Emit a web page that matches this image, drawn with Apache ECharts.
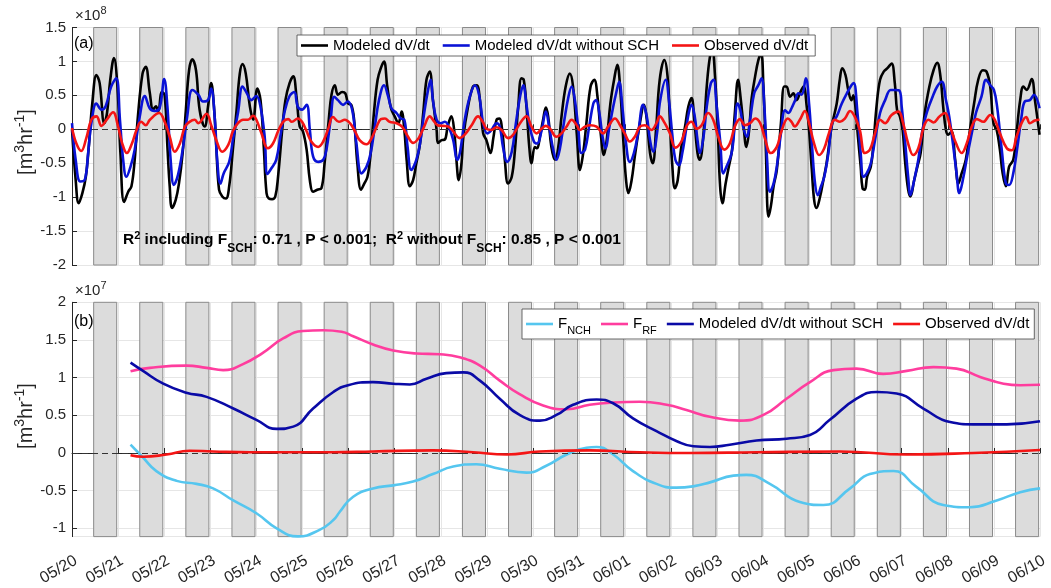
<!DOCTYPE html>
<html><head><meta charset="utf-8">
<script src="https://cdn.jsdelivr.net/npm/echarts@6/dist/echarts.min.js"></script>
<style>html,body{margin:0;padding:0;background:#fff}#c{width:1051px;height:588px}</style>
</head><body><div id="c"></div><script>
// ---------- data (x = days since 05/20 00:00) ----------
const dateLabels = ['05/20','05/21','05/22','05/23','05/24','05/25','05/26','05/27','05/28','05/29','05/30','05/31','06/01','06/02','06/03','06/04','06/05','06/06','06/07','06/08','06/09','06/10'];
const nightBands = [[0.47,0.97],[1.47,1.97],[2.47,2.97],[3.47,3.97],[4.47,4.97],[5.47,5.97],[6.47,6.97],[7.47,7.97],[8.47,8.97],[9.47,9.97],[10.47,10.97],[11.47,11.97],[12.47,12.97],[13.47,13.97],[14.47,14.97],[15.47,15.97],[16.47,16.97],[17.47,17.97],[18.47,18.97],[19.47,19.97],[20.47,20.97]];

// panel (a), units of 1e8 m3/hr
const modeledTop = [[0.0,0.0],[0.08,-0.75],[0.145,-1.09],[0.225,-0.94],[0.30,-0.70],[0.37,-0.21],[0.44,0.38],[0.53,0.80],[0.60,0.68],[0.70,0.09],[0.76,0.24],[0.83,0.73],[0.91,1.05],[0.985,0.63],[1.05,-0.35],[1.13,-1.07],[1.22,-0.92],[1.29,-0.84],[1.36,-0.45],[1.43,0.19],[1.53,0.82],[1.60,0.92],[1.685,0.55],[1.76,0.29],[1.82,0.34],[1.87,0.26],[1.95,0.55],[2.01,0.50],[2.07,-0.26],[2.12,-0.84],[2.17,-1.16],[2.25,-1.04],[2.32,-0.80],[2.40,-0.35],[2.47,0.28],[2.54,0.87],[2.61,1.03],[2.69,0.87],[2.77,0.28],[2.88,0.04],[2.95,0.33],[3.02,0.68],[3.08,0.33],[3.13,-0.26],[3.19,-0.89],[3.26,-0.99],[3.34,-1.02],[3.41,-0.84],[3.49,-0.30],[3.57,0.28],[3.64,0.82],[3.70,0.96],[3.77,0.82],[3.86,0.33],[3.93,0.14],[4.02,0.60],[4.09,0.43],[4.16,-0.26],[4.22,-0.94],[4.27,-1.02],[4.34,-1.03],[4.41,-0.99],[4.47,-0.70],[4.56,-0.01],[4.63,0.43],[4.72,0.68],[4.80,0.78],[4.87,0.48],[4.94,0.04],[5.01,-0.03],[5.09,-0.30],[5.16,-0.75],[5.23,-0.92],[5.32,-0.89],[5.41,-0.87],[5.48,-0.50],[5.57,0.14],[5.63,0.51],[5.70,0.65],[5.77,0.51],[5.86,0.55],[5.93,0.53],[5.99,0.38],[6.06,0.36],[6.12,0.14],[6.19,-0.50],[6.27,-0.89],[6.34,-0.80],[6.41,-0.70],[6.48,-0.35],[6.55,0.24],[6.63,0.73],[6.71,0.92],[6.77,1.0],[6.84,0.63],[6.92,0.31],[7.00,0.19],[7.08,0.09],[7.15,0.26],[7.21,-0.01],[7.26,-0.45],[7.33,-0.84],[7.40,-0.75],[7.47,-0.50],[7.55,-0.21],[7.62,0.24],[7.69,0.73],[7.76,0.85],[7.83,0.43],[7.91,-0.01],[7.94,-0.20],[8.02,-0.16],[8.09,-0.15],[8.15,0.04],[8.23,0.19],[8.29,-0.01],[8.34,-0.45],[8.39,-0.75],[8.45,-0.50],[8.49,-0.11],[8.59,0.33],[8.70,0.63],[8.78,0.65],[8.85,0.43],[8.92,-0.06],[8.99,-0.16],[9.08,-0.35],[9.14,-0.13],[9.21,0.14],[9.27,0.16],[9.34,-0.06],[9.39,-0.45],[9.46,-0.80],[9.54,-0.70],[9.61,-0.30],[9.68,0.33],[9.75,0.75],[9.80,0.73],[9.86,0.33],[9.92,-0.26],[9.97,-0.50],[10.04,-0.26],[10.09,-0.28],[10.15,-0.11],[10.22,0.14],[10.28,0.32],[10.33,0.19],[10.40,-0.26],[10.48,-0.45],[10.55,-0.26],[10.62,0.19],[10.71,0.63],[10.80,0.82],[10.87,0.63],[10.95,-0.06],[11.02,-0.60],[11.09,-0.35],[11.16,0.09],[11.25,0.63],[11.33,0.73],[11.40,0.48],[11.47,-0.06],[11.54,-0.38],[11.60,-0.16],[11.68,0.38],[11.76,0.73],[11.83,0.95],[11.89,0.63],[11.96,-0.16],[12.02,-0.75],[12.07,-0.94],[12.14,-0.75],[12.21,-0.40],[12.32,0.09],[12.41,0.36],[12.47,0.14],[12.54,-0.35],[12.60,-0.50],[12.67,-0.01],[12.75,0.73],[12.85,1.02],[12.92,0.78],[12.97,0.14],[13.02,-0.50],[13.08,-0.87],[13.14,-0.75],[13.21,-0.30],[13.30,0.04],[13.37,0.33],[13.44,0.46],[13.50,0.14],[13.57,-0.35],[13.62,-0.45],[13.70,-0.06],[13.77,0.63],[13.84,1.07],[13.89,1.14],[13.95,0.78],[14.01,-0.01],[14.06,-0.84],[14.11,-1.09],[14.18,-0.80],[14.25,-0.55],[14.32,-0.30],[14.38,0.24],[14.45,0.73],[14.51,0.43],[14.57,0.04],[14.63,-0.26],[14.69,-0.01],[14.74,0.43],[14.82,0.78],[14.89,1.02],[14.95,1.12],[15.00,0.63],[15.05,-0.26],[15.11,-1.29],[15.16,-1.14],[15.22,-0.84],[15.29,-0.60],[15.38,0.09],[15.45,0.63],[15.50,0.63],[15.58,0.48],[15.65,0.53],[15.72,0.43],[15.79,0.53],[15.87,0.63],[15.94,0.33],[15.99,-0.01],[16.05,-0.60],[16.10,-1.04],[16.15,-1.16],[16.23,-0.99],[16.30,-0.75],[16.37,-0.50],[16.48,0.04],[16.59,0.38],[16.66,0.75],[16.71,0.90],[16.78,0.80],[16.84,0.58],[16.91,0.43],[16.95,0.50],[17.0,0.30],[17.05,-0.11],[17.11,-0.55],[17.15,-0.87],[17.20,-0.89],[17.25,-0.70],[17.33,-0.55],[17.38,-0.26],[17.46,0.38],[17.53,0.73],[17.61,0.85],[17.69,0.90],[17.78,0.97],[17.85,0.68],[17.90,0.28],[17.96,0.19],[18.02,-0.01],[18.07,-0.45],[18.14,-0.89],[18.19,-0.99],[18.27,-0.75],[18.34,-0.55],[18.41,-0.35],[18.50,0.24],[18.60,0.63],[18.69,0.87],[18.77,0.98],[18.84,0.78],[18.90,0.33],[18.96,-0.01],[19.01,-0.08],[19.08,-0.03],[19.16,-0.45],[19.23,-0.80],[19.30,-0.65],[19.39,-0.45],[19.48,-0.01],[19.57,0.38],[19.66,0.73],[19.76,0.87],[19.84,0.85],[19.92,0.63],[19.99,0.09],[20.06,-0.01],[20.13,-0.30],[20.19,-0.65],[20.26,-0.84],[20.33,-0.55],[20.42,-0.45],[20.49,-0.06],[20.57,0.43],[20.64,0.63],[20.71,0.58],[20.82,0.74],[20.89,0.43],[20.99,-0.08]];

const modeledNoSchTop = [[0.0,0.09],[0.08,-0.45],[0.18,-0.77],[0.28,-0.74],[0.35,-0.35],[0.42,0.09],[0.53,0.38],[0.64,0.29],[0.73,0.34],[0.85,0.63],[0.96,0.75],[1.04,0.14],[1.11,-0.45],[1.18,-0.70],[1.27,-0.55],[1.36,-0.30],[1.47,0.19],[1.58,0.49],[1.685,0.31],[1.79,0.27],[1.90,0.31],[2.0,0.74],[2.07,0.33],[2.14,-0.45],[2.21,-0.82],[2.30,-0.67],[2.41,-0.26],[2.50,0.19],[2.61,0.58],[2.74,0.51],[2.84,0.41],[2.95,0.43],[3.02,0.60],[3.10,0.14],[3.15,-0.45],[3.22,-0.80],[3.29,-0.65],[3.41,-0.48],[3.49,-0.16],[3.60,0.24],[3.70,0.63],[3.78,0.55],[3.89,0.43],[4.00,0.49],[4.09,0.33],[4.18,-0.11],[4.24,-0.66],[4.33,-0.57],[4.43,-0.45],[4.53,-0.06],[4.62,0.28],[4.72,0.49],[4.82,0.55],[4.90,0.33],[4.99,0.29],[5.09,0.36],[5.16,-0.01],[5.23,-0.40],[5.34,-0.48],[5.45,-0.45],[5.52,-0.30],[5.61,0.14],[5.69,0.48],[5.77,0.43],[5.88,0.36],[5.98,0.41],[6.08,0.28],[6.17,-0.21],[6.28,-0.65],[6.39,-0.55],[6.48,-0.35],[6.57,0.04],[6.66,0.43],[6.77,0.65],[6.86,0.48],[6.93,0.31],[7.04,0.24],[7.13,0.16],[7.21,0.14],[7.28,-0.26],[7.36,-0.60],[7.47,-0.45],[7.55,-0.21],[7.64,0.24],[7.73,0.60],[7.78,0.73],[7.83,0.43],[7.91,0.14],[8.00,0.09],[8.09,0.11],[8.20,-0.01],[8.27,-0.16],[8.36,-0.45],[8.42,-0.33],[8.52,0.14],[8.63,0.48],[8.74,0.65],[8.83,0.51],[8.92,0.09],[9.01,-0.06],[9.10,-0.01],[9.21,0.09],[9.28,0.04],[9.35,-0.26],[9.44,-0.48],[9.54,-0.33],[9.63,0.09],[9.72,0.48],[9.79,0.65],[9.86,0.36],[9.93,0.04],[10.02,-0.18],[10.09,-0.21],[10.19,-0.01],[10.28,0.26],[10.35,0.04],[10.44,-0.30],[10.51,-0.45],[10.58,-0.30],[10.67,0.09],[10.77,0.48],[10.84,0.63],[10.91,0.43],[10.98,0.04],[11.05,-0.35],[11.13,-0.30],[11.22,0.04],[11.31,0.38],[11.37,0.43],[11.44,0.24],[11.51,-0.11],[11.57,-0.28],[11.66,0.04],[11.74,0.33],[11.81,0.55],[11.87,0.70],[11.94,0.33],[12.02,-0.21],[12.10,-0.48],[12.19,-0.35],[12.28,-0.06],[12.39,0.36],[12.47,0.19],[12.54,-0.16],[12.61,-0.33],[12.70,-0.01],[12.75,0.38],[12.88,0.73],[12.95,0.43],[13.02,-0.06],[13.09,-0.45],[13.17,-0.53],[13.24,-0.35],[13.31,-0.06],[13.38,0.24],[13.44,0.36],[13.51,0.19],[13.57,-0.16],[13.62,-0.35],[13.70,-0.11],[13.77,0.33],[13.86,0.68],[13.92,0.73],[13.98,0.38],[14.06,-0.16],[14.13,-0.65],[14.20,-0.55],[14.31,-0.35],[14.37,-0.01],[14.44,0.38],[14.50,0.28],[14.56,0.04],[14.64,-0.11],[14.71,0.14],[14.80,0.53],[14.89,0.65],[14.96,0.75],[15.02,0.33],[15.08,-0.45],[15.14,-0.92],[15.22,-0.80],[15.29,-0.55],[15.38,-0.06],[15.47,0.28],[15.54,0.24],[15.61,0.31],[15.69,0.43],[15.76,0.53],[15.83,0.51],[15.92,0.75],[15.99,0.38],[16.06,-0.30],[16.12,-0.80],[16.18,-0.97],[16.25,-0.84],[16.32,-0.70],[16.41,-0.35],[16.49,0.09],[16.59,0.19],[16.70,0.38],[16.81,0.53],[16.91,0.65],[16.96,0.68],[17.04,0.24],[17.11,-0.35],[17.17,-0.70],[17.24,-0.65],[17.33,-0.50],[17.42,-0.16],[17.53,0.24],[17.64,0.43],[17.76,0.58],[17.85,0.58],[17.95,0.57],[18.00,0.33],[18.07,-0.16],[18.14,-0.70],[18.19,-0.97],[18.27,-0.75],[18.36,-0.45],[18.45,-0.01],[18.56,0.28],[18.67,0.48],[18.77,0.63],[18.87,0.70],[18.96,0.43],[19.03,0.19],[19.12,-0.26],[19.19,-0.65],[19.25,-0.94],[19.34,-0.70],[19.42,-0.40],[19.52,-0.06],[19.61,0.24],[19.73,0.48],[19.83,0.73],[19.92,0.65],[20.00,0.58],[20.07,0.33],[20.17,-0.30],[20.26,-0.80],[20.33,-0.82],[20.42,-0.65],[20.51,-0.26],[20.60,0.19],[20.67,0.41],[20.78,0.43],[20.87,0.51],[20.99,0.31]];

const observedTop = [[0.0,0.02],[0.095,-0.21],[0.20,-0.32],[0.31,-0.13],[0.42,0.14],[0.53,0.19],[0.64,0.05],[0.75,0.14],[0.89,0.25],[1.0,0.04],[1.09,-0.21],[1.19,-0.35],[1.30,-0.21],[1.40,-0.01],[1.50,0.11],[1.60,0.06],[1.69,0.14],[1.89,0.24],[2.01,0.11],[2.12,-0.11],[2.23,-0.33],[2.34,-0.21],[2.45,0.04],[2.55,0.11],[2.66,0.14],[2.74,0.09],[2.92,0.23],[3.02,0.06],[3.13,-0.16],[3.26,-0.33],[3.39,-0.23],[3.49,-0.03],[3.60,0.09],[3.71,0.14],[3.82,0.14],[3.93,0.20],[4.00,0.14],[4.11,-0.06],[4.25,-0.28],[4.36,-0.21],[4.47,-0.03],[4.58,0.11],[4.69,0.15],[4.77,0.11],[4.90,0.16],[4.99,0.11],[5.09,-0.03],[5.19,-0.18],[5.34,-0.26],[5.45,-0.18],[5.56,0.01],[5.66,0.18],[5.79,0.11],[5.92,0.14],[6.03,0.09],[6.14,-0.03],[6.24,-0.16],[6.39,-0.22],[6.50,-0.13],[6.61,0.04],[6.70,0.15],[6.79,0.16],[6.89,0.11],[7.04,0.09],[7.16,0.04],[7.29,-0.11],[7.40,-0.20],[7.52,-0.13],[7.64,0.04],[7.76,0.19],[7.83,0.14],[7.93,0.06],[8.05,0.05],[8.16,0.04],[8.27,-0.03],[8.41,-0.13],[8.52,-0.08],[8.67,0.06],[8.81,0.19],[8.91,0.11],[8.99,0.01],[9.10,-0.01],[9.21,0.03],[9.32,-0.01],[9.46,-0.13],[9.57,-0.08],[9.72,0.09],[9.86,0.19],[9.97,0.04],[10.08,-0.06],[10.19,0.01],[10.28,0.05],[10.37,0.01],[10.51,-0.11],[10.62,-0.06],[10.73,0.04],[10.84,0.14],[10.95,0.06],[11.02,-0.01],[11.13,0.04],[11.24,0.06],[11.38,0.04],[11.52,-0.06],[11.63,0.04],[11.78,0.16],[11.89,0.06],[11.99,-0.06],[12.10,-0.18],[12.21,-0.11],[12.32,0.04],[12.43,0.06],[12.57,-0.01],[12.68,0.09],[12.75,0.19],[12.86,0.09],[12.97,-0.06],[13.09,-0.27],[13.22,-0.18],[13.33,0.04],[13.44,0.11],[13.55,0.01],[13.66,0.06],[13.80,0.24],[13.91,0.14],[14.02,-0.11],[14.15,-0.30],[14.27,-0.21],[14.38,0.04],[14.49,0.15],[14.60,0.06],[14.71,0.09],[14.82,0.16],[14.93,0.09],[15.03,-0.13],[15.16,-0.35],[15.29,-0.26],[15.39,-0.03],[15.53,0.16],[15.61,0.11],[15.68,0.04],[15.79,0.14],[15.90,0.27],[15.99,0.09],[16.10,-0.21],[16.21,-0.38],[16.32,-0.28],[16.42,-0.06],[16.55,0.14],[16.66,0.11],[16.77,0.16],[16.88,0.27],[16.98,0.19],[17.09,-0.01],[17.20,-0.35],[17.31,-0.30],[17.42,-0.06],[17.53,0.14],[17.64,0.09],[17.78,0.21],[17.93,0.26],[18.03,0.09],[18.14,-0.21],[18.25,-0.38],[18.36,-0.28],[18.48,0.04],[18.58,0.14],[18.69,0.10],[18.82,0.19],[18.94,0.24],[19.05,0.04],[19.18,-0.21],[19.30,-0.35],[19.41,-0.21],[19.52,0.04],[19.63,0.15],[19.77,0.11],[19.92,0.21],[20.02,0.14],[20.13,-0.06],[20.28,-0.28],[20.39,-0.31],[20.49,-0.11],[20.60,0.09],[20.70,0.18],[20.78,0.09],[20.89,0.13],[20.99,0.14]];

// panel (b), units of 1e7 m3/hr
const fNch = [[1.27,0.11],[1.54,-0.06],[1.83,-0.24],[2.27,-0.37],[2.70,-0.41],[3.06,-0.47],[3.50,-0.63],[4.0,-0.80],[4.44,-1.00],[4.90,-1.107],[5.37,-1.02],[5.67,-0.89],[5.81,-0.78],[6.10,-0.58],[6.53,-0.47],[6.97,-0.43],[7.40,-0.38],[7.83,-0.28],[8.27,-0.18],[8.77,-0.15],[9.28,-0.21],[9.86,-0.26],[10.29,-0.17],[10.73,-0.02],[11.16,0.07],[11.38,0.08],[11.74,-0.02],[12.17,-0.24],[12.68,-0.41],[13.11,-0.46],[13.50,-0.44],[13.84,-0.39],[14.35,-0.30],[14.63,-0.29],[15.14,-0.41],[15.79,-0.65],[16.30,-0.69],[16.88,-0.47],[17.31,-0.28],[17.82,-0.24],[18.32,-0.45],[18.90,-0.69],[19.48,-0.72],[20.06,-0.63],[20.57,-0.52],[21.0,-0.47]];
const fRf = [[1.27,1.085],[1.69,1.13],[2.48,1.16],[2.92,1.13],[3.28,1.10],[3.71,1.18],[4.14,1.33],[4.58,1.52],[5.01,1.62],[5.45,1.63],[5.85,1.61],[6.10,1.55],[6.53,1.44],[6.97,1.36],[7.47,1.32],[7.98,1.31],[8.41,1.27],[8.85,1.16],[9.28,0.96],[9.71,0.78],[10.22,0.63],[10.73,0.58],[11.23,0.64],[11.74,0.67],[12.32,0.68],[12.90,0.64],[13.33,0.57],[13.84,0.48],[14.49,0.43],[15.00,0.505],[15.50,0.72],[16.01,0.94],[16.52,1.10],[17.02,1.12],[17.60,1.05],[18.11,1.09],[18.69,1.14],[19.19,1.12],[19.70,1.01],[20.21,0.92],[20.57,0.90],[21.0,0.905]];
const modeledNoSchBottom = [[1.27,1.20],[1.54,1.09],[1.98,0.92],[2.48,0.80],[2.92,0.745],[3.50,0.59],[4.0,0.44],[4.44,0.32],[4.80,0.35],[5.23,0.59],[5.67,0.81],[5.99,0.90],[6.53,0.94],[6.97,0.92],[7.33,0.91],[7.69,0.985],[8.12,1.06],[8.49,1.07],[8.85,0.96],[9.28,0.72],[9.71,0.505],[10.15,0.43],[10.51,0.505],[10.87,0.64],[11.38,0.71],[11.74,0.66],[12.17,0.46],[12.68,0.29],[13.11,0.16],[13.48,0.09],[13.84,0.08],[14.27,0.11],[14.85,0.165],[15.50,0.19],[16.01,0.24],[16.44,0.44],[17.02,0.72],[17.46,0.81],[17.89,0.79],[18.47,0.59],[19.05,0.41],[19.55,0.38],[20.28,0.38],[21.0,0.42]];
const observedBottom = [[1.27,-0.03],[1.54,-0.05],[2.05,-0.02],[2.55,0.03],[3.06,0.02],[3.86,0.01],[4.94,0.01],[5.67,0.01],[6.53,0.02],[7.83,0.035],[8.70,0.01],[9.43,-0.02],[10.15,0.02],[11.23,0.035],[12.32,0.01],[13.4,0.0],[14.85,0.01],[16.66,0.02],[18.11,-0.02],[19.55,0.0],[21.0,0.04]];

const seriesLabels = {
  topK: 'Modeled dV/dt', topB: 'Modeled dV/dt without SCH', topR: 'Observed dV/dt',
  F_NCH: 'F{sub|NCH}', F_RF: 'F{sub|RF}', botB: 'Modeled dV/dt without SCH', botR: 'Observed dV/dt'
};

// ---------- chart ----------
const FONT = 'Liberation Sans, Arial, Helvetica, sans-serif';
const TXT = '#262626';
const chart = echarts.init(document.getElementById('c'), null, {renderer: 'canvas'});

function bandSeries(idx) {
  return {
    type: 'custom', xAxisIndex: idx, yAxisIndex: idx, data: nightBands, z: 1, silent: true,
    encode: {x: [0, 1]},
    renderItem: function (params, api) {
      const cs = params.coordSys;
      const x0 = api.coord([api.value(0), 0])[0];
      const x1 = api.coord([api.value(1), 0])[0];
      return {type: 'rect', shape: {x: x0, y: cs.y, width: x1 - x0, height: cs.height},
        style: {fill: '#dcdcdc', stroke: '#8a8a8a', lineWidth: 1}};
    }
  };
}
function lineSeries(name, data, color, idx, z, extra) {
  return Object.assign({
    name: name, type: 'line', data: data, xAxisIndex: idx, yAxisIndex: idx,
    symbol: 'none', showSymbol: false, smooth: 0.4, z: z, silent: true, animation: false,
    lineStyle: {color: color, width: 2.6}, itemStyle: {color: color}
  }, extra || {});
}
const zeroLine = {silent: true, symbol: 'none', animation: false, label: {show: false},
  lineStyle: {color: '#333', type: [6, 4], width: 1.2}, data: [{yAxis: 0}]};

const xCommon = {
  type: 'value', min: 0, max: 21, interval: 1,
  axisLine: {show: true, lineStyle: {color: TXT, width: 1}},
  axisTick: {show: true, inside: true, length: 5, lineStyle: {color: TXT}},
  splitLine: {show: true, lineStyle: {color: '#e6e6e6', width: 1}}
};
const yCommon = {
  type: 'value',
  axisLine: {show: true, lineStyle: {color: TXT, width: 1}},
  axisTick: {show: true, inside: true, length: 5, lineStyle: {color: TXT}},
  splitLine: {show: true, lineStyle: {color: '#e6e6e6', width: 1}},
  axisLabel: {color: TXT, fontSize: 15, fontFamily: FONT, margin: 6}
};

const legendText = {
  color: '#000', fontSize: 15, fontFamily: FONT,
  rich: {sub: {fontSize: 11, fontFamily: FONT, color: '#000', verticalAlign: 'bottom', lineHeight: 10}}
};

const option = {
  animation: false,
  backgroundColor: '#fff',
  grid: [
    {left: 72, top: 27.5, width: 968, height: 237.5},
    {left: 72, top: 302.3, width: 968, height: 237.7}
  ],
  xAxis: [
    Object.assign({}, xCommon, {gridIndex: 0, axisLabel: {show: false}}),
    Object.assign({}, xCommon, {gridIndex: 1, axisLabel: {show: true, rotate: 30, margin: 16, verticalAlign: 'top',
      color: TXT, fontSize: 16, fontFamily: FONT,
      formatter: function (v) { return dateLabels[Math.round(v)] || ''; }}})
  ],
  yAxis: [
    Object.assign({}, yCommon, {gridIndex: 0, min: -2, max: 1.5, interval: 0.5}),
    Object.assign({}, yCommon, {gridIndex: 1, min: -1.11, max: 2, splitNumber: 6,
      axisLabel: Object.assign({}, yCommon.axisLabel, {showMinLabel: false,
        formatter: function (v) { return Math.abs(v * 2 - Math.round(v * 2)) < 1e-6 ? String(Math.round(v * 100) / 100) : ''; }})})
  ],
  legend: [
    {left: 297, top: 35, orient: 'horizontal', data: ['topK', 'topB', 'topR'],
      icon: 'rect', itemWidth: 27, itemHeight: 2.6, itemGap: 13, padding: [3, 7, 3, 4],
      backgroundColor: '#fff', borderColor: '#444', borderWidth: 0.8, borderRadius: 0,
      formatter: function (n) { return seriesLabels[n]; }, textStyle: legendText, selectedMode: false},
    {left: 522, top: 309, orient: 'horizontal', data: ['F_NCH', 'F_RF', 'botB', 'botR'],
      icon: 'rect', itemWidth: 27, itemHeight: 2.6, itemGap: 10, padding: [3, 5, 3, 4],
      backgroundColor: '#fff', borderColor: '#444', borderWidth: 0.8, borderRadius: 0,
      formatter: function (n) { return seriesLabels[n]; },
      textStyle: Object.assign({}, legendText, {lineHeight: 24}), selectedMode: false}
  ],
  series: [
    bandSeries(0),
    lineSeries('topK', modeledTop, '#000000', 0, 3),
    lineSeries('topB', modeledNoSchTop, '#0a12d6', 0, 4),
    lineSeries('topR', observedTop, '#f41515', 0, 5, {markLine: zeroLine}),
    bandSeries(1),
    lineSeries('F_NCH', fNch, '#55c6ef', 1, 3, {smooth: 0.5}),
    lineSeries('F_RF', fRf, '#ff3d9e', 1, 4, {smooth: 0.5}),
    lineSeries('botB', modeledNoSchBottom, '#0a0aa6', 1, 5, {smooth: 0.5}),
    lineSeries('botR', observedBottom, '#f41515', 1, 6, {smooth: 0.5, markLine: zeroLine})
  ],
  graphic: [
    {type: 'text', x: 75, y: 5, silent: true, z: 20, style: {text: '×10{s|8}', fill: TXT, fontSize: 15, fontFamily: FONT,
      rich: {s: {fontSize: 11, fontFamily: FONT, fill: TXT, verticalAlign: 'top', lineHeight: 10}}, lineHeight: 22}},
    {type: 'text', x: 75, y: 280, silent: true, z: 20, style: {text: '×10{s|7}', fill: TXT, fontSize: 15, fontFamily: FONT,
      rich: {s: {fontSize: 11, fontFamily: FONT, fill: TXT, verticalAlign: 'top', lineHeight: 10}}, lineHeight: 22}},
    {type: 'text', x: 74, y: 44, silent: true, z: 20, style: {text: '(a)', fill: '#000', fontSize: 16, fontFamily: FONT, verticalAlign: 'middle'}},
    {type: 'text', x: 74, y: 322, silent: true, z: 20, style: {text: '(b)', fill: '#000', fontSize: 16, fontFamily: FONT, verticalAlign: 'middle'}},
    {type: 'text', x: 123, y: 240, silent: true, z: 20, style: {
      text: '{m|R}{p|2}{m| including F}{b|SCH}{m|: 0.71 , P < 0.001;  R}{p|2}{m| without F}{b|SCH}{m|: 0.85 , P < 0.001}',
      verticalAlign: 'middle', fill: '#000', fontFamily: FONT, fontWeight: 'bold',
      rich: {
        m: {fontSize: 15.5, fontWeight: 'bold', fontFamily: FONT, fill: '#000', lineHeight: 30},
        p: {fontSize: 11, fontWeight: 'bold', fontFamily: FONT, fill: '#000', lineHeight: 12, padding: [0, 0, 9, 0]},
        b: {fontSize: 12, fontWeight: 'bold', fontFamily: FONT, fill: '#000', lineHeight: 8, verticalAlign: 'bottom'}
      }}},
    {type: 'text', x: 26, y: 142, rotation: Math.PI / 2, silent: true, z: 20, style: {
      text: '{n|[m}{s|3}{n|hr}{s|-1}{n|]}', align: 'center', verticalAlign: 'middle', fill: TXT, fontFamily: FONT,
      rich: {n: {fontSize: 20, fontFamily: FONT, fill: TXT, lineHeight: 26}, s: {fontSize: 14, fontFamily: FONT, fill: TXT, lineHeight: 14, verticalAlign: 'top'}}}},
    {type: 'text', x: 26, y: 416, rotation: Math.PI / 2, silent: true, z: 20, style: {
      text: '{n|[m}{s|3}{n|hr}{s|-1}{n|]}', align: 'center', verticalAlign: 'middle', fill: TXT, fontFamily: FONT,
      rich: {n: {fontSize: 20, fontFamily: FONT, fill: TXT, lineHeight: 26}, s: {fontSize: 14, fontFamily: FONT, fill: TXT, lineHeight: 14, verticalAlign: 'top'}}}}
  ]
};
chart.setOption(option);
</script></body></html>
